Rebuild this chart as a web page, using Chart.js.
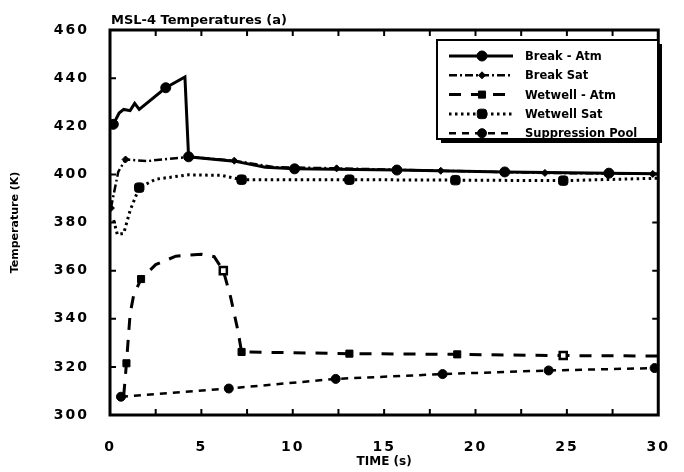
<!DOCTYPE html>
<html>
<head>
<meta charset="utf-8">
<script src="https://cdn.jsdelivr.net/npm/chart.js@4.4.1/dist/chart.umd.min.js"></script>
<style>
  body { margin: 0; background: #fff; }
  #wrap { width: 684px; height: 472px; }
</style>
</head>
<body>
<div id="wrap"><canvas id="grafico" width="684" height="472"></canvas></div>
<script>
// valores (tempo em s, temperatura em K)
const tBreakAtm = [0.18, 0.5, 0.75, 1.1, 1.35, 1.6, 3.05, 4.1, 4.3, 6.8, 8.5, 10.1, 15.7, 21.6, 27.3, 30];
const kBreakAtm = [420.8, 425.5, 427, 426.5, 429.5, 427, 436, 440.5, 407.3, 405.5, 403, 402.3, 401.8, 401, 400.5, 400.3];
const mBreakAtm = [1, 0, 0, 0, 0, 0, 1, 0, 1, 0, 0, 1, 1, 1, 1, 0];

const tBreakSat = [0.05, 0.45, 0.85, 2.0, 3.0, 4.3, 6.8, 9.0, 12.4, 18.1, 23.8, 29.7];
const kBreakSat = [386, 401, 406.2, 405.5, 406.3, 407.2, 405.7, 403, 402.5, 401.5, 400.6, 400.2];
const mBreakSat = [1, 0, 1, 0, 0, 0, 1, 0, 1, 1, 1, 1];

const tWetAtm = [0.75, 0.9, 1.1, 1.3, 1.7, 2.5, 3.6, 5.0, 5.7, 6.2, 6.6, 7.0, 7.2, 13.1, 19.0, 24.8, 30];
const kWetAtm = [308, 321.5, 342, 350, 356.5, 362.5, 366, 366.8, 365.8, 360, 349, 335, 326.2, 325.5, 325.2, 324.7, 324.5];
const mWetAtm = [0, 1, 0, 0, 1, 0, 0, 0, 0, 2, 0, 0, 1, 1, 1, 2, 0]; // 2 = marcador vazado

const tWetSat = [0.2, 0.4, 0.75, 1.1, 1.6, 2.5, 4.3, 6.1, 7.2, 13.1, 18.9, 24.8, 30];
const kWetSat = [381, 375, 375.5, 385, 394.5, 398, 399.8, 399.6, 397.8, 397.8, 397.6, 397.4, 398.4];
const mWetSat = [0, 0, 0, 0, 1, 0, 0, 0, 1, 1, 1, 1, 0];

const tPool = [0.6, 6.5, 12.35, 18.2, 24.0, 29.8];
const kPool = [307.6, 311, 315, 317, 318.5, 319.5];
const mPool = [1, 1, 1, 1, 1, 1];

const nomes = ['Break - Atm', 'Break Sat', 'Wetwell - Atm', 'Wetwell Sat', 'Suppression Pool'];
const xTicks = [0, 5, 10, 15, 20, 25, 30];
const yTicks = [300, 320, 340, 360, 380, 400, 420, 440, 460];

const FONTE = '"DejaVu Sans", sans-serif';

function pontos(ts, ks) {
    return ts.map((t, i) => ({ x: t, y: ks[i] }));
}

function serie(label, ts, ks, marks, estilo) {
    return Object.assign({
        label: label,
        data: pontos(ts, ks),
        borderColor: '#000',
        pointBorderColor: '#000',
        pointBackgroundColor: marks.map(m => m === 2 ? '#fff' : '#000'),
        pointRadius: marks.map(m => m ? estilo.r : 0),
        pointBorderWidth: marks.map(m => m === 2 ? 2.5 : 1),
        borderCapStyle: 'butt',
        tension: 0,
        fill: false
    }, estilo.ds);
}

const datasets = [
    serie(nomes[0], tBreakAtm, kBreakAtm, mBreakAtm, { r: 5, ds: { borderWidth: 3, pointStyle: 'circle' } }),
    serie(nomes[1], tBreakSat, kBreakSat, mBreakSat, { r: 3.5, ds: { borderWidth: 2.5, borderDash: [8, 3, 2, 3], pointStyle: 'rectRot' } }),
    serie(nomes[2], tWetAtm, kWetAtm, mWetAtm, { r: 5, ds: { borderWidth: 3, borderDash: [12, 10], pointStyle: 'rect' } }),
    serie(nomes[3], tWetSat, kWetSat, mWetSat, { r: 5.5, ds: { borderWidth: 3, borderDash: [2.5, 3.5], pointStyle: 'rectRounded' } }),
    serie(nomes[4], tPool, kPool, mPool, { r: 4.5, ds: { borderWidth: 2.5, borderDash: [7, 6], pointStyle: 'circle' } })
];

// moldura, tracinhos internos, titulos e legenda
const moldura = {
    id: 'moldura',
    beforeDraw(chart) {
        chart.ctx.letterSpacing = '2px';
    },
    beforeDatasetsDraw(chart) {
        chart.ctx.letterSpacing = '0px';
    },
    afterDraw(chart) {
        const ctx = chart.ctx;
        const a = chart.chartArea;
        const sx = chart.scales.x, sy = chart.scales.y;
        ctx.save();
        ctx.letterSpacing = '0px';
        ctx.strokeStyle = '#000';
        ctx.lineWidth = 3;
        ctx.setLineDash([]);
        ctx.strokeRect(a.left, a.top, a.right - a.left, a.bottom - a.top);

        ctx.lineWidth = 2;
        ctx.beginPath();
        for (let v = 2.5; v < 30; v += 2.5) {
            const px = sx.getPixelForValue(v);
            ctx.moveTo(px, a.bottom); ctx.lineTo(px, a.bottom - 6);
            ctx.moveTo(px, a.top); ctx.lineTo(px, a.top + 6);
        }
        for (let v = 320; v < 460; v += 20) {
            const py = sy.getPixelForValue(v);
            ctx.moveTo(a.left, py); ctx.lineTo(a.left + 6, py);
            ctx.moveTo(a.right, py); ctx.lineTo(a.right - 6, py);
        }
        ctx.stroke();

        // titulo e nomes dos eixos
        ctx.fillStyle = '#000';
        ctx.font = 'bold 13px ' + FONTE;
        ctx.textAlign = 'left';
        ctx.textBaseline = 'alphabetic';
        ctx.fillText('MSL-4 Temperatures (a)', a.left + 1, a.top - 6);

        ctx.font = 'bold 12px ' + FONTE;
        ctx.textAlign = 'center';
        ctx.textBaseline = 'middle';
        ctx.fillText('TIME (s)', (a.left + a.right) / 2, 462);
        ctx.save();
        ctx.translate(15, (a.top + a.bottom) / 2);
        ctx.rotate(-Math.PI / 2);
        ctx.font = 'bold 11px ' + FONTE;
        ctx.fillText('Temperature (K)', 0, 0);
        ctx.restore();

        // legenda
        const bx = 437, by = 40, bw = 221, bh = 99;
        ctx.fillStyle = '#000';
        ctx.fillRect(bx + 4, by + 4, bw, bh);
        ctx.fillStyle = '#fff';
        ctx.fillRect(bx, by, bw, bh);
        ctx.lineWidth = 2;
        ctx.strokeRect(bx, by, bw, bh);
        ctx.font = 'bold 11.5px ' + FONTE;
        ctx.textAlign = 'left';
        ctx.textBaseline = 'middle';
        chart.data.datasets.forEach((ds, i) => {
            const yy = by + 16 + i * 19.3;
            ctx.strokeStyle = '#000';
            ctx.lineWidth = ds.borderWidth;
            ctx.setLineDash(ds.borderDash || []);
            ctx.beginPath();
            ctx.moveTo(bx + 12, yy);
            ctx.lineTo(bx + 76, yy);
            ctx.stroke();
            ctx.setLineDash([]);
            const r = Math.max.apply(null, ds.pointRadius);
            ctx.fillStyle = '#000';
            ctx.lineWidth = 1;
            Chart.helpers.drawPoint(ctx, { pointStyle: ds.pointStyle, radius: r, borderWidth: 1, rotation: 0 }, bx + 45, yy);
            ctx.fillStyle = '#000';
            ctx.fillText(ds.label, bx + 88, yy + 1);
        });
        ctx.restore();
    }
};

new Chart(document.getElementById('grafico'), {
    type: 'line',
    data: { datasets: datasets },
    plugins: [moldura],
    options: {
        responsive: false,
        animation: false,
        layout: { padding: { left: 0, right: 14, top: 30, bottom: 0 } },
        plugins: {
            legend: { display: false },
            tooltip: { enabled: false },
            title: { display: false }
        },
        scales: {
            x: {
                type: 'linear',
                min: 0, max: 30,
                afterFit: s => { s.height = 57; },
                afterBuildTicks: s => { s.ticks = xTicks.map(v => ({ value: v })); },
                grid: { display: false },
                border: { display: false },
                ticks: { color: '#000', padding: 16, maxRotation: 0, font: { family: FONTE, size: 14, weight: 'bold' } }
            },
            y: {
                type: 'linear',
                min: 300, max: 460,
                afterFit: s => { s.width = 110; },
                afterBuildTicks: s => { s.ticks = yTicks.map(v => ({ value: v })); },
                grid: { display: false },
                border: { display: false },
                ticks: { color: '#000', padding: 13, font: { family: FONTE, size: 14, weight: 'bold' } }
            }
        }
    }
});
</script>
</body>
</html>
